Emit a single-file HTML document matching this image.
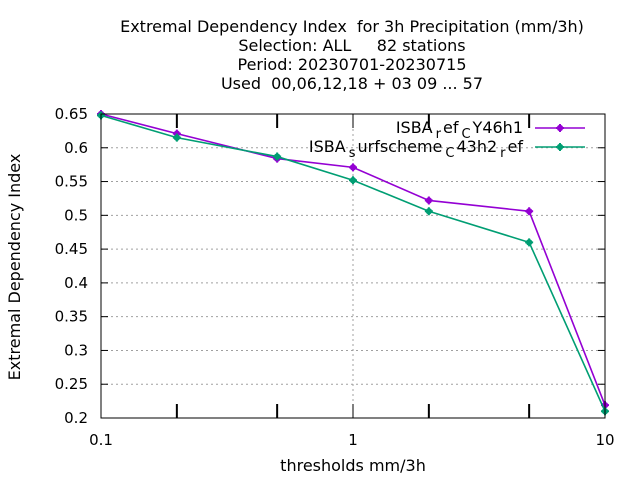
<!DOCTYPE html>
<html><head><meta charset="utf-8"><style>
body{margin:0;background:#fff}
svg{font-family:"DejaVu Sans","Liberation Sans",sans-serif;font-size:15px}
text{white-space:pre}
</style></head><body>
<svg id="chart" width="640" height="480" viewBox="0 0 640 480">
<g id="title" text-anchor="middle" font-size="16">
<text x="352" y="32" xml:space="preserve">Extremal Dependency Index  for 3h Precipitation (mm/3h)</text>
<text x="352" y="51" xml:space="preserve">Selection: ALL     82 stations</text>
<text x="352" y="70">Period: 20230701-20230715</text>
<text x="352" y="89" xml:space="preserve">Used  00,06,12,18 + 03 09 ... 57</text>
</g>
<text font-size="16" transform="translate(20,267) rotate(-90)" text-anchor="middle">Extremal Dependency Index</text>
<text font-size="16" x="353" y="471" text-anchor="middle">thresholds mm/3h</text>
<g id="grid"></g><g id="axes"></g><g id="series"></g>
<rect x="101" y="114" width="504" height="304" fill="none" stroke="#000" stroke-width="1"/>
<g id="legend"></g>
</svg>
<script>
const xValues=[0.1,0.2,0.5,1,2,5,10];
const seriesNames=["ISBA_ref_CY46h1","ISBA_surfscheme_C43h2_ref"];
const series1=[0.650,0.621,0.584,0.571,0.522,0.506,0.219];
const series2=[0.648,0.615,0.587,0.552,0.506,0.460,0.210];
const seriesColors=["#9400d3","#009e73"];
const yTicks=[0.2,0.25,0.3,0.35,0.4,0.45,0.5,0.55,0.6,0.65];
const yTickLabels=["0.2","0.25","0.3","0.35","0.4","0.45","0.5","0.55","0.6","0.65"];
const xMajor=[0.1,1,10];
const xMajorLabels=["0.1","1","10"];
const xMinor=[0.2,0.5,2,5];
const NS="http://www.w3.org/2000/svg";
const L=101,R=605,T=114,B=418;
function sx(v){return L+(Math.log10(v)-Math.log10(0.1))/2*(R-L);}
function sy(v){return B-(v-0.2)/0.45*(B-T);}
function mk(tag,attrs,parent){const e=document.createElementNS(NS,tag);for(const k in attrs)e.setAttribute(k,attrs[k]);parent.appendChild(e);return e;}
const grid=document.getElementById('grid'),axes=document.getElementById('axes'),ser=document.getElementById('series'),leg=document.getElementById('legend');
yTicks.forEach((v,i)=>{
 const y=sy(v);
 if(i>0&&i<yTicks.length-1){const g=mk('line',{x1:L,x2:R,y1:y,y2:y,stroke:'#a0a0a0','stroke-dasharray':'2,3'},grid);
 
 }
 mk('line',{x1:L,x2:L+7,y1:y,y2:y,stroke:'#000'},axes);
 mk('line',{x1:R-7,x2:R,y1:y,y2:y,stroke:'#000'},axes);
 const t=mk('text',{x:L-13,y:y+5,'text-anchor':'end'},axes);t.textContent=yTickLabels[i];
 
 
});
xMajor.forEach((v,i)=>{
 const x=sx(v);
 if(i>0&&i<xMajor.length-1){const g=mk('line',{x1:x,x2:x,y1:T,y2:B,stroke:'#a0a0a0','stroke-dasharray':'2,3'},grid);
 
 }
 mk('line',{x1:x,x2:x,y1:B,y2:B-14,stroke:'#000'},axes);
 mk('line',{x1:x,x2:x,y1:T,y2:T+14,stroke:'#000'},axes);
 const t=mk('text',{x:x,y:B+27,'text-anchor':'middle'},axes);t.textContent=xMajorLabels[i];
 
 
});
xMinor.forEach(v=>{const x=sx(v);
 mk('line',{x1:x,x2:x,y1:B,y2:B-14,stroke:'#000','stroke-width':2},axes);
 mk('line',{x1:x,x2:x,y1:T,y2:T+14,stroke:'#000','stroke-width':2},axes);});
function marker(x,y,c,p){mk('path',{d:`M${x-4},${y}h8M${x},${y-4}v8`,stroke:c,'stroke-width':2},p);mk('circle',{cx:x,cy:y,r:3.2,fill:c},p);}
[series1,series2].forEach((s,k)=>{
 const g=mk('g',{},ser);
 
 
 const pts=s.map((v,i)=>sx(xValues[i])+','+sy(v)).join(' ');
 mk('polyline',{points:pts,fill:'none',stroke:seriesColors[k],'stroke-width':1.6},g);
 s.forEach((v,i)=>marker(sx(xValues[i]),sy(v),seriesColors[k],g));
});
const legendLabels=[['ISBA','r','ef','C','Y46h1'],['ISBA','s','urfscheme','C','43h2','r','ef']];
legendLabels.forEach((parts,k)=>{
 const y=128+k*19;
 const t=mk('text',{x:523,y:y+5,'text-anchor':'end','font-size':16},leg);
 
 
 parts.forEach((p,i)=>{
  const ts=mk('tspan',{},t);
  if(i%2===1){ts.setAttribute('font-size','13');ts.setAttribute('dy','5');ts.setAttribute('dx','3');}
  else if(i>0){ts.setAttribute('dy','-5');ts.setAttribute('dx','2');}
  ts.textContent=p;
 });
 mk('line',{x1:535,x2:585,y1:y,y2:y,stroke:seriesColors[k],'stroke-width':1.6},leg);
 marker(560,y,seriesColors[k],leg);
});
</script>
</body></html>
